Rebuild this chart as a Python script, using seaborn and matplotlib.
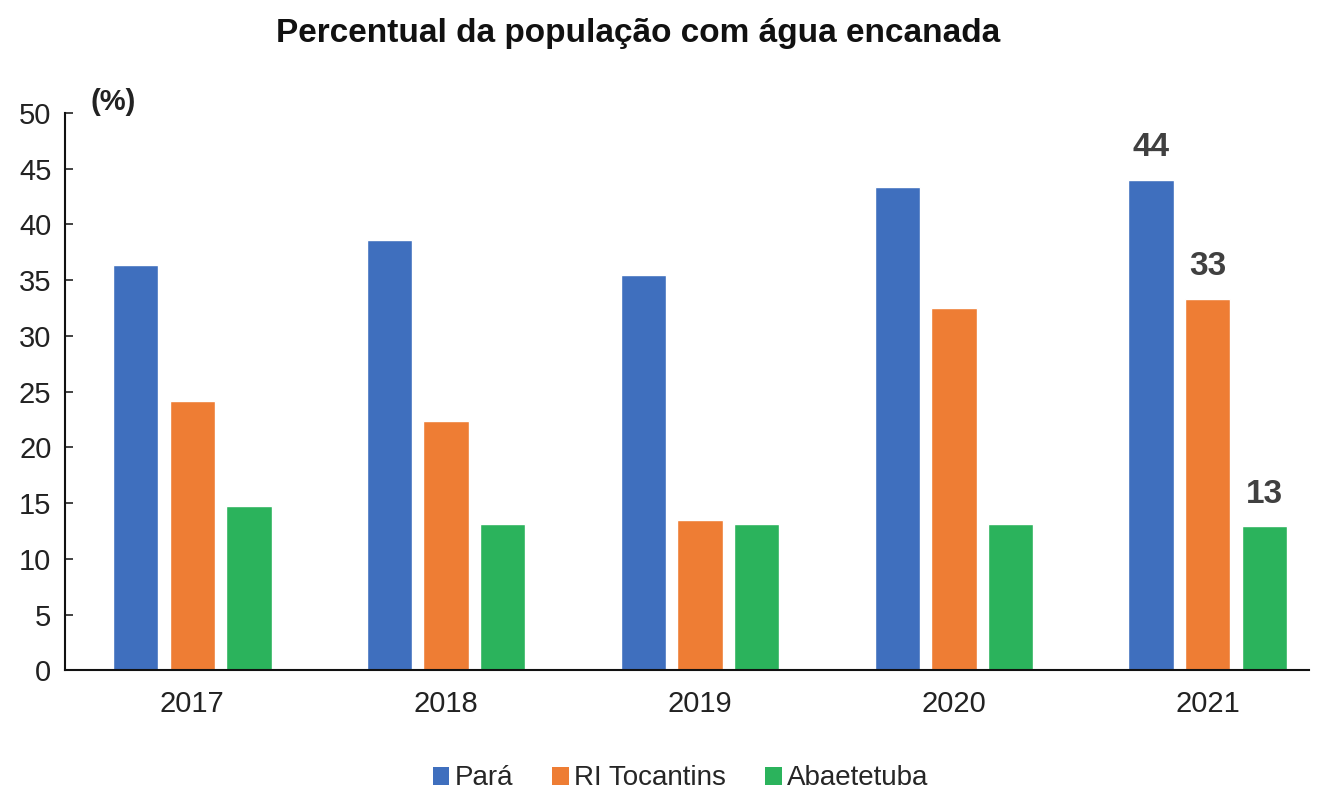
import pandas as pd
import numpy as np
import matplotlib
matplotlib.use('Agg')
import matplotlib.pyplot as plt
import seaborn as sns
from matplotlib.patches import Patch

# dados
anos = ['2017', '2018', '2019', '2020', '2021']
para = [36.4, 38.6, 35.5, 43.4, 44.0]
ri_tocantins = [24.2, 22.4, 13.5, 32.5, 33.3]
abaetetuba = [14.7, 13.1, 13.1, 13.1, 12.9]
series = ['Pará', 'RI Tocantins', 'Abaetetuba']
cores = ['#3F6FBE', '#EE7D34', '#2BB35C']

df = pd.DataFrame({'ano': anos * 3,
                   'valor': para + ri_tocantins + abaetetuba,
                   'serie': [s for s in series for _ in anos]})

sns.set_style('white')
plt.rcParams['font.family'] = ['Liberation Sans', 'DejaVu Sans']

fig = plt.figure(figsize=(13.32, 7.96), dpi=100)
ax = fig.add_axes([0.049, 0.158, 0.934, 0.70])

sns.barplot(data=df, x='ano', y='valor', hue='serie', palette=cores, saturation=1,
            width=0.67, gap=0.2, ax=ax, legend=False)

ax.set_ylim(0, 50)
ax.set_xlim(-0.5, 4.4)
ax.set_yticks(range(0, 51, 5))
ax.set_xlabel('')
ax.set_ylabel('')
ax.tick_params(axis='y', left=True, direction='in', length=6, width=1.2, labelsize=21, pad=10, colors='#222222')
ax.tick_params(axis='x', length=0, labelsize=21, pad=14, colors='#222222')
for s in ['top', 'right']:
    ax.spines[s].set_visible(False)
for s in ['left', 'bottom']:
    ax.spines[s].set_color('#111111')
    ax.spines[s].set_linewidth(1.5)

# rótulos só em 2021
for cont, vals in zip(ax.containers, [para, ri_tocantins, abaetetuba]):
    labs = [''] * (len(vals) - 1) + [str(int(round(vals[-1])))]
    ax.bar_label(cont, labels=labs, padding=12, fontsize=24, fontweight='bold', color='#404040')

ax.text(0.02, 1.02, '(%)', transform=ax.transAxes, fontsize=21, fontweight='bold',
        ha='left', va='center', color='#222222')

fig.text(0.479, 0.958, 'Percentual da população com água encanada', ha='center', va='center',
         fontsize=24, fontweight='bold', color='#111111')

handles = [Patch(facecolor=c, edgecolor='none') for c in cores]
fig.legend(handles, series, loc='center', bbox_to_anchor=(0.511, 0.022), ncol=3, frameon=False,
           fontsize=20, handlelength=0.6, handleheight=0.6, handletextpad=0.2, columnspacing=1.4)

fig.savefig('out.png', dpi=100, facecolor='white')
